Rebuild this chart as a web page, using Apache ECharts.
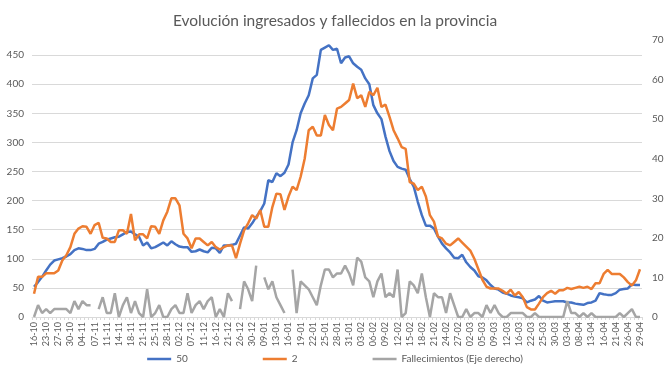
<!DOCTYPE html>
<html>
<head>
<meta charset="utf-8">
<script src="https://cdn.jsdelivr.net/npm/echarts@6/dist/echarts.min.js"></script>
<style>
html,body{margin:0;padding:0;background:#fff;}
#chart{width:670px;height:377px;}
</style>
</head>
<body>
<div id="chart"></div>
<script>
const categories = [
'16-10','19-10','21-10','23-10','24-10','26-10','27-10','28-10','29-10','30-10',
'02-11','03-11','04-11','05-11','06-11','07-11','09-11','10-11','11-11','12-11',
'13-11','14-11','16-11','17-11','18-11','19-11','20-11','21-11','23-11','24-11',
'25-11','26-11','27-11','28-11','30-11','01-12','02-12','03-12','04-12','07-12',
'09-12','10-12','11-12','14-12','15-12','16-12','17-12','18-12','21-12','22-12',
'23-12','26-12','28-12','29-12','30-12','04-01','05-01','09-01','11-01','12-01',
'13-01','14-01','15-01','16-01','17-01','18-01','19-01','20-01','21-01','22-01',
'23-01','24-01','25-01','26-01','27-01','28-01','29-01','30-01','31-01','01-02',
'02-02','03-02','04-02','05-02','06-02','07-02','08-02','09-02','10-02','11-02',
'12-02','13-02','14-02','15-02','16-02','17-02','18-02','19-02','20-02','21-02',
'22-02','23-02','24-02','25-02','26-02','27-02','28-02','01-03','02-03','03-03',
'04-03','05-03','06-03','08-03','09-03','10-03','11-03','12-03','13-03','15-03',
'16-03','18-03','19-03','22-03','23-03','24-03','25-03','26-03','29-03','30-03',
'31-03','01-04','03-04','05-04','06-04','08-04','09-04','12-04','13-04','14-04',
'15-04','16-04','19-04','20-04','21-04','22-04','23-04','26-04','27-04','28-04',
'29-04'
];

const serie50 = [
52,60,69,80,90,97,99,101,104,108,
115,118,117,115,115,117,126,129,133,135,
137,138,142,146,147,142,138,123,128,118,
120,124,128,123,130,125,121,120,120,112,
113,116,113,111,119,118,110,123,123,124,
126,140,154,152,161,172,182,195,235,232,
247,242,248,262,300,321,350,367,381,410,
416,459,463,467,459,461,436,446,448,436,
430,425,410,400,364,350,340,310,285,268,
258,255,253,237,224,198,175,157,157,152,
138,126,118,111,102,101,107,94,86,80,
70,68,63,55,49,47,42,40,37,35,
34,32,25,28,30,36,28,25,26,27,
27,27,25,25,23,22,21,24,25,28,
41,39,38,38,41,47,48,49,56,55,55
];

const serie2 = [
40,69,69,75,75,75,80,97,106,120,
143,152,156,155,143,158,162,136,135,129,
129,149,149,143,177,132,142,142,135,156,
155,143,166,181,204,204,192,143,135,118,
135,135,129,123,129,120,116,120,123,123,
101,126,149,161,175,169,184,155,155,189,
212,211,184,207,224,218,241,272,321,327,
312,312,347,330,321,358,361,367,373,401,
376,381,361,387,381,394,361,365,344,321,
307,292,289,232,229,218,224,207,175,164,
138,135,126,123,129,135,128,121,114,100,
82,64,52,49,49,49,45,40,47,37,
43,34,17,13,13,23,34,41,45,40,
46,46,50,48,50,52,50,52,48,58,
58,74,81,74,74,74,68,60,54,63,82
];

const fallecimientos = [
0,3,1,2,1,2,2,2,2,1,
4,2,4,3,3,null,2,5,1,1,
6,0,3,5,1,4,1,0,7,0,
1,3,0,0,2,3,1,1,6,1,
3,4,2,4,5,0,2,0,6,4,
null,2,9,7,4,13,null,10,7,9,
5,3,1,null,12,1,9,8,7,5,
3,8,12,12,10,11,11,13,11,8,
15,14,10,9,5,9,11,5,6,5,
12,0,1,9,8,6,11,5,0,6,
5,5,1,6,3,0,0,2,0,1,
1,0,3,1,3,1,0,0,1,1,
1,1,0,0,1,0,0,0,0,0,
0,0,4,1,1,0,1,0,1,0,
0,0,0,0,0,1,0,1,2,0,0
];

const seriesNames = ['50', '2', 'Fallecimientos (Eje derecho)'];
const titleText = 'Evolución ingresados y fallecidos en la provincia';

const FONT = 'Lato, "Open Sans", sans-serif';
const TXT = '#595959';
const GRID = '#D9D9D9';

const chart = echarts.init(document.getElementById('chart'), null, {renderer: 'canvas'});
chart.setOption({
  animation: false,
  backgroundColor: '#ffffff',
  title: {
    text: titleText,
    left: 'center',
    top: 8,
    textStyle: {fontFamily: FONT, fontSize: 15.5, fontWeight: 'normal', color: TXT}
  },
  legend: {
    data: seriesNames,
    bottom: 8,
    left: 'center',
    icon: 'rect',
    itemWidth: 24,
    itemHeight: 2.5,
    itemGap: 75,
    textStyle: {fontFamily: FONT, fontSize: 10, color: TXT}
  },
  grid: {left: 32, right: 28, top: 40, bottom: 60},
  xAxis: {
    type: 'category',
    data: categories,
    boundaryGap: true,
    axisLine: {lineStyle: {color: GRID}},
    axisTick: {show: true, interval: 0, length: 3, lineStyle: {color: GRID}},
    axisLabel: {interval: 2, rotate: 90, fontFamily: FONT, fontSize: 9, color: TXT, margin: 5}
  },
  yAxis: [
    {
      type: 'value', min: 0, max: 476, interval: 50,
      axisLine: {show: false}, axisTick: {show: false},
      axisLabel: {fontFamily: FONT, fontSize: 10, color: TXT, margin: 8,
        formatter: function (v) { return v % 50 === 0 ? String(v) : ''; }},
      splitLine: {show: true, showMaxLine: false, lineStyle: {color: GRID, width: 1}}
    },
    {
      type: 'value', min: 0, max: 70, interval: 10, position: 'right',
      axisLine: {show: false}, axisTick: {show: false},
      axisLabel: {fontFamily: FONT, fontSize: 10, color: TXT, margin: 10},
      splitLine: {show: false}
    }
  ],
  series: [
    {name: seriesNames[0], type: 'line', data: serie50, yAxisIndex: 0, showSymbol: false,
     lineStyle: {color: '#4472C4', width: 2.5}, itemStyle: {color: '#4472C4'}},
    {name: seriesNames[1], type: 'line', data: serie2, yAxisIndex: 0, showSymbol: false,
     lineStyle: {color: '#ED7D31', width: 2.5}, itemStyle: {color: '#ED7D31'}},
    {name: seriesNames[2], type: 'line', data: fallecimientos, yAxisIndex: 1, showSymbol: false,
     connectNulls: false,
     lineStyle: {color: '#A5A5A5', width: 2.5}, itemStyle: {color: '#A5A5A5'}}
  ]
});
</script>
</body>
</html>
